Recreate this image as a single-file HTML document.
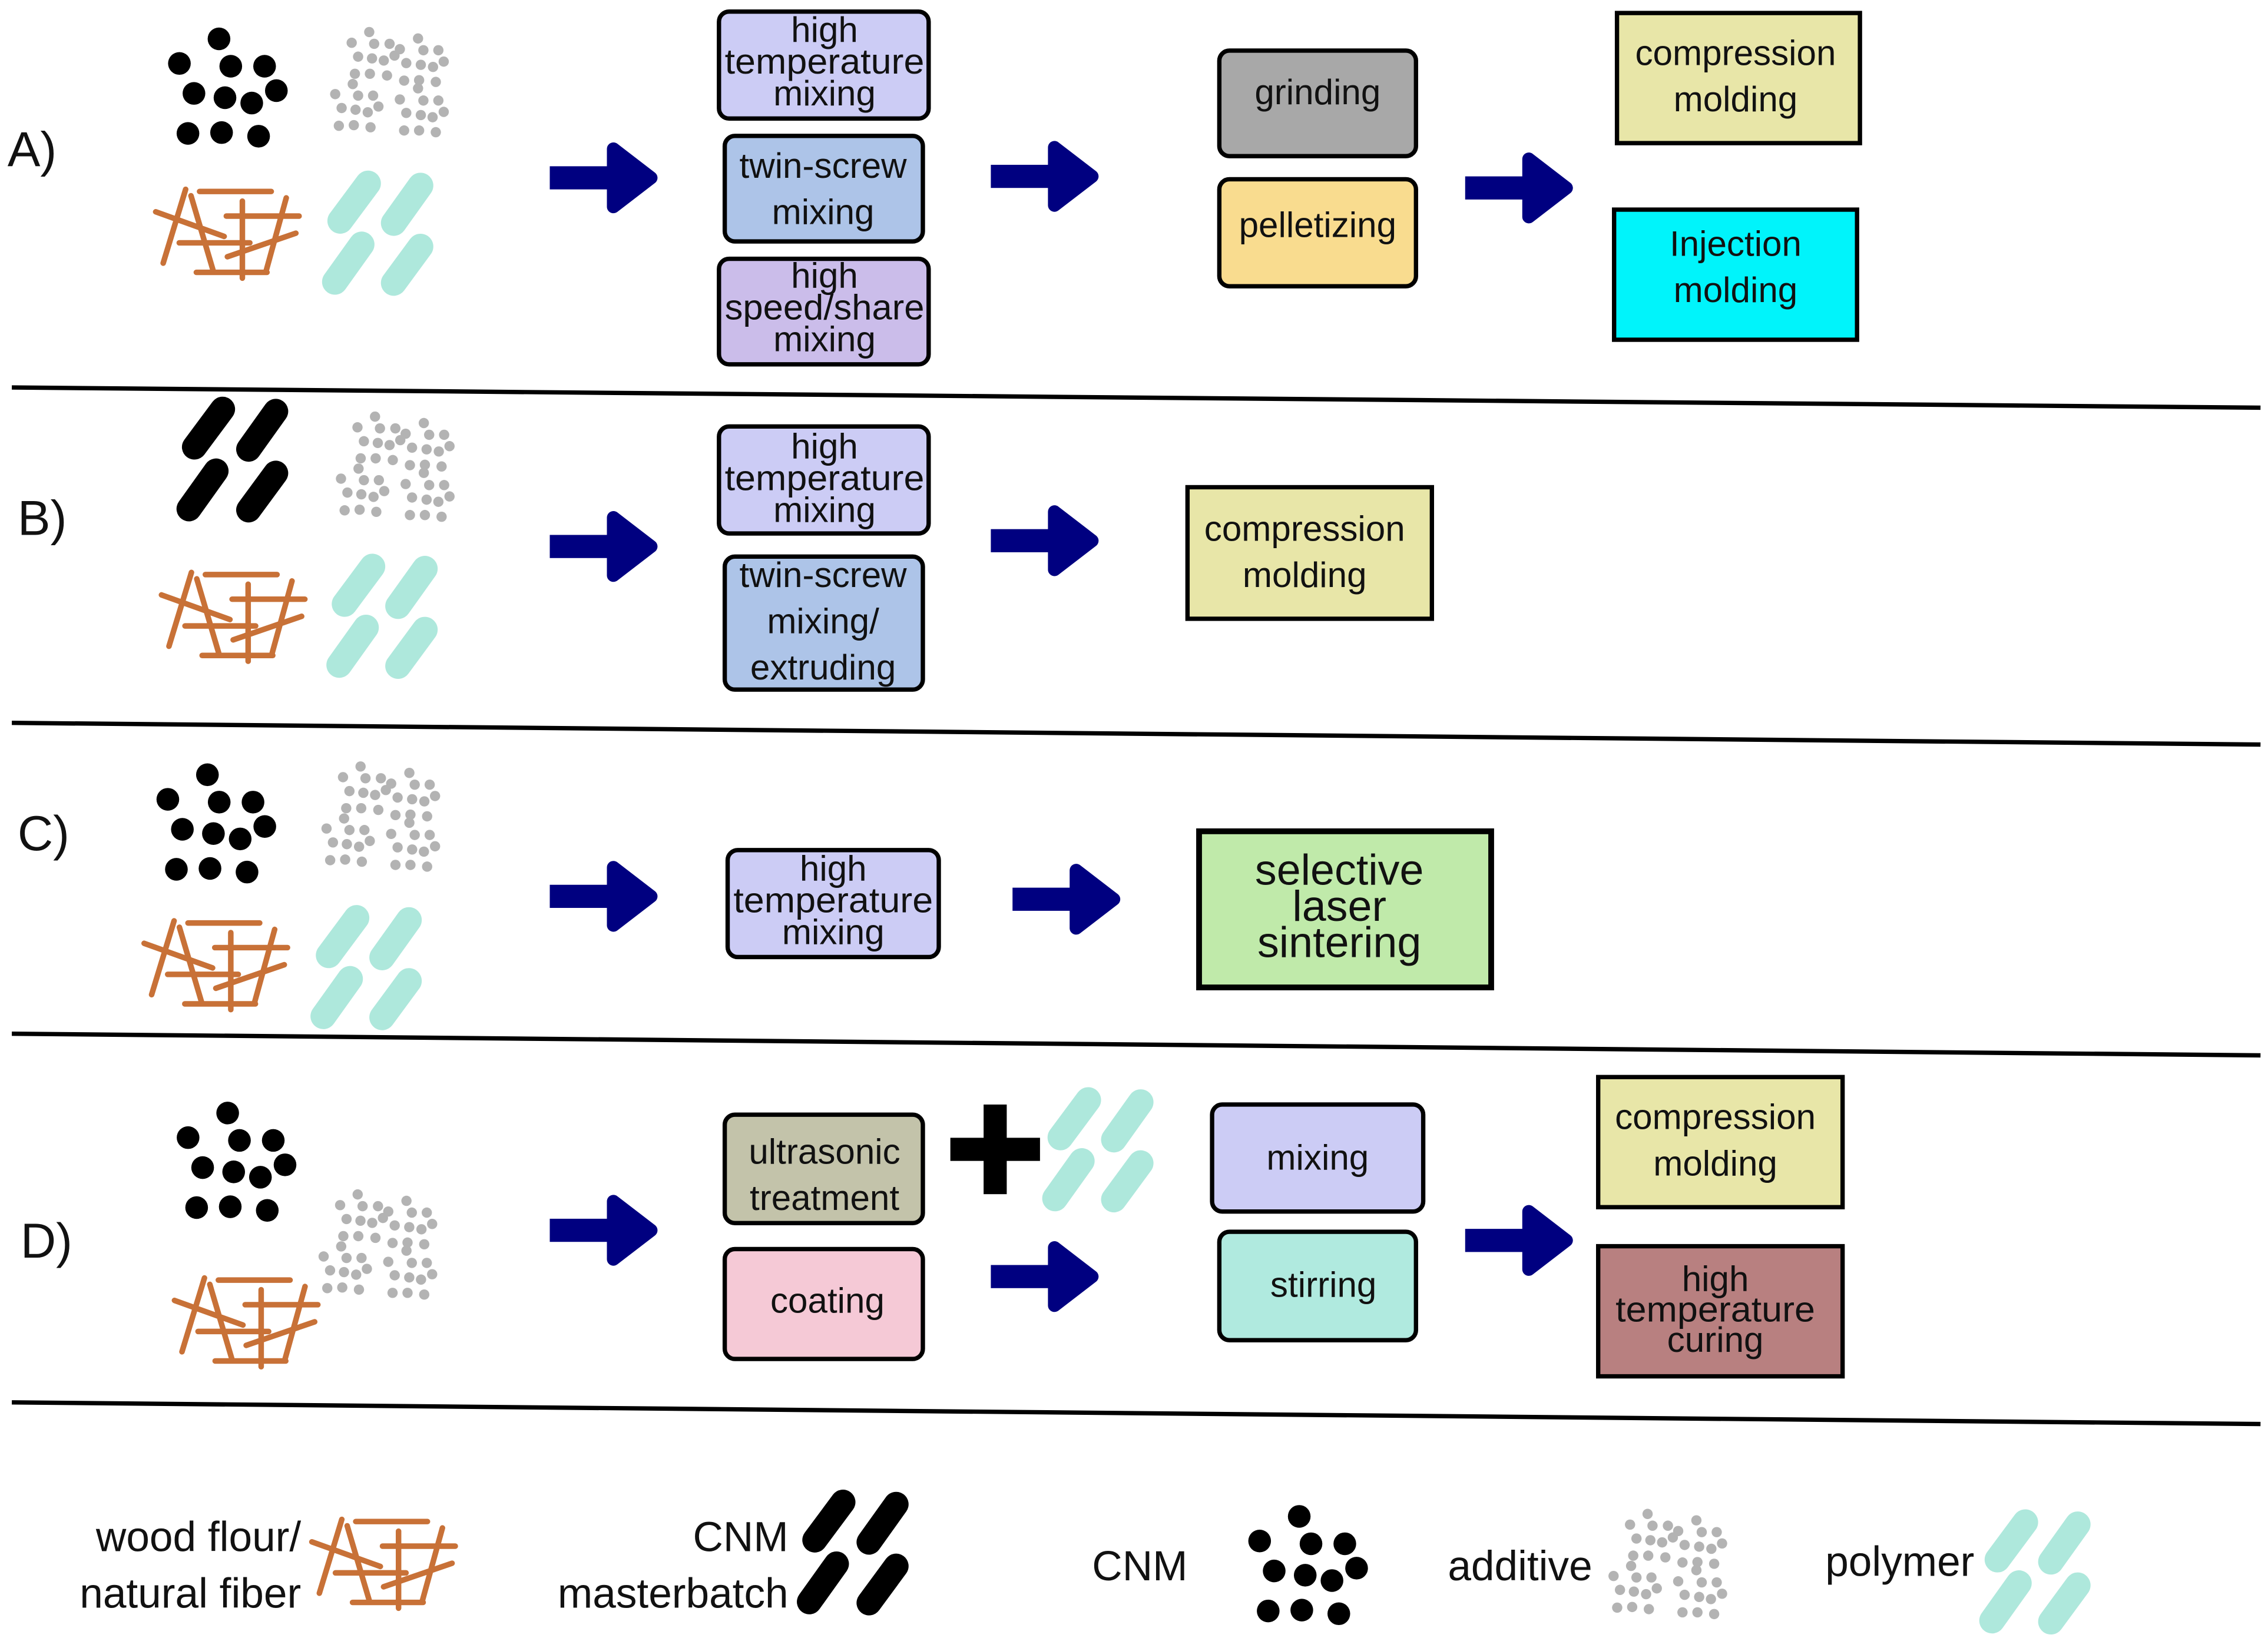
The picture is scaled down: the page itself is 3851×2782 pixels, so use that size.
<!DOCTYPE html>
<html><head><meta charset="utf-8"><style>
html,body{margin:0;padding:0;background:#fff;}
svg{display:block;}
text{font-family:"Liberation Sans",sans-serif;fill:#111;}
</style></head><body>
<svg width="3851" height="2782" viewBox="0 0 1568 1133" xmlns="http://www.w3.org/2000/svg">
<defs>
<g id="cnm" fill="#000">
<circle cx="245" cy="60" r="53"/><circle cx="60" cy="175" r="53"/><circle cx="300" cy="188" r="53"/><circle cx="458" cy="188" r="53"/>
<circle cx="128" cy="315" r="53"/><circle cx="273" cy="335" r="53"/><circle cx="398" cy="360" r="53"/><circle cx="513" cy="302" r="53"/>
<circle cx="100" cy="502" r="53"/><circle cx="257" cy="498" r="53"/><circle cx="430" cy="515" r="53"/>
</g>
<g id="add" fill="#b3b3b3">
<circle cx="197" cy="35" r="24"/><circle cx="115" cy="85" r="24"/><circle cx="220" cy="90" r="24"/><circle cx="292" cy="90" r="24"/><circle cx="340" cy="115" r="24"/><circle cx="425" cy="65" r="24"/><circle cx="450" cy="120" r="24"/><circle cx="520" cy="120" r="24"/>
<circle cx="145" cy="150" r="24"/><circle cx="210" cy="158" r="24"/><circle cx="265" cy="168" r="24"/><circle cx="315" cy="145" r="24"/><circle cx="370" cy="180" r="24"/><circle cx="438" cy="188" r="24"/><circle cx="495" cy="198" r="24"/><circle cx="545" cy="173" r="24"/>
<circle cx="130" cy="230" r="24"/><circle cx="200" cy="230" r="24"/><circle cx="280" cy="238" r="24"/><circle cx="360" cy="262" r="24"/><circle cx="430" cy="260" r="24"/><circle cx="508" cy="268" r="24"/><circle cx="120" cy="278" r="24"/><circle cx="425" cy="298" r="24"/>
<circle cx="38" cy="325" r="24"/><circle cx="145" cy="332" r="24"/><circle cx="215" cy="332" r="24"/><circle cx="340" cy="350" r="24"/><circle cx="450" cy="355" r="24"/><circle cx="520" cy="355" r="24"/>
<circle cx="68" cy="390" r="24"/><circle cx="133" cy="398" r="24"/><circle cx="190" cy="410" r="24"/><circle cx="240" cy="383" r="24"/><circle cx="370" cy="413" r="24"/><circle cx="438" cy="423" r="24"/><circle cx="493" cy="433" r="24"/><circle cx="545" cy="408" r="24"/>
<circle cx="55" cy="473" r="24"/><circle cx="125" cy="470" r="24"/><circle cx="203" cy="480" r="24"/><circle cx="360" cy="495" r="24"/><circle cx="430" cy="495" r="24"/><circle cx="508" cy="503" r="24"/>
</g>
<g id="fib" stroke="#c87137" stroke-width="26" stroke-linecap="round" fill="none">
<line x1="150" y1="20" x2="45" y2="365"/><line x1="175" y1="50" x2="280" y2="405"/><line x1="215" y1="30" x2="550" y2="30"/><line x1="10" y1="125" x2="330" y2="240"/><line x1="340" y1="145" x2="680" y2="145"/><line x1="415" y1="75" x2="415" y2="435"/><line x1="120" y1="270" x2="450" y2="270"/><line x1="345" y1="335" x2="665" y2="225"/><line x1="620" y1="60" x2="525" y2="405"/><line x1="200" y1="408" x2="530" y2="408"/>
</g>
<g id="pol" stroke="#aee8dc" stroke-width="120" stroke-linecap="round">
<line x1="75" y1="235" x2="205" y2="60"/><line x1="325" y1="245" x2="450" y2="70"/><line x1="50" y1="520" x2="175" y2="345"/><line x1="325" y1="525" x2="450" y2="355"/>
</g>
<g id="mb" stroke="#000" stroke-width="115" stroke-linecap="round">
<line x1="75" y1="235" x2="205" y2="60"/><line x1="325" y1="245" x2="450" y2="70"/><line x1="50" y1="520" x2="175" y2="345"/><line x1="325" y1="525" x2="450" y2="355"/>
</g>
<g id="arr" fill="#000080" stroke="#000080" stroke-linejoin="round">
<rect x="0" y="-8" width="48" height="16" stroke="none"/>
<polygon points="44,-20 70,0 44,20" stroke-width="9"/>
</g>
</defs>

<g stroke="#000" stroke-width="3">
<line x1="8" y1="268" x2="1563" y2="282"/>
<line x1="8" y1="500" x2="1563" y2="515"/>
<line x1="8" y1="715" x2="1563" y2="730"/>
<line x1="8" y1="970" x2="1563" y2="985"/>
</g>

<g font-size="34">
<text x="5" y="115">A)</text>
<text x="12" y="370">B)</text>
<text x="12" y="588">C)</text>
<text x="14" y="870">D)</text>
</g>

<g transform="translate(115,18) scale(0.148)"><use href="#cnm"/></g>
<g transform="translate(226,17) scale(0.148)"><use href="#add"/></g>
<g transform="translate(106,128) scale(0.148)"><use href="#fib"/></g>
<g transform="translate(224,118) scale(0.148)"><use href="#pol"/></g>

<g transform="translate(123,274) scale(0.15)"><use href="#mb"/></g>
<g transform="translate(230,283) scale(0.148)"><use href="#add"/></g>
<g transform="translate(110,393) scale(0.148)"><use href="#fib"/></g>
<g transform="translate(227,383) scale(0.148)"><use href="#pol"/></g>

<g transform="translate(107,527) scale(0.148)"><use href="#cnm"/></g>
<g transform="translate(220,525) scale(0.148)"><use href="#add"/></g>
<g transform="translate(98,634) scale(0.148)"><use href="#fib"/></g>
<g transform="translate(216,626) scale(0.148)"><use href="#pol"/></g>

<g transform="translate(121,761) scale(0.148)"><use href="#cnm"/></g>
<g transform="translate(218,821) scale(0.148)"><use href="#add"/></g>
<g transform="translate(119,881) scale(0.148)"><use href="#fib"/></g>
<g transform="translate(722,752) scale(0.148)"><use href="#pol"/></g>

<g fill="#000"><rect x="680" y="764" width="16" height="62"/><rect x="657" y="787" width="62" height="16"/></g>

<use href="#arr" x="380" y="123"/><use href="#arr" x="685" y="122"/><use href="#arr" x="1013" y="130"/>
<use href="#arr" x="380" y="378"/><use href="#arr" x="685" y="374"/>
<use href="#arr" x="380" y="620"/><use href="#arr" x="700" y="622"/>
<use href="#arr" x="380" y="851"/><use href="#arr" x="685" y="883"/><use href="#arr" x="1013" y="858"/>

<g stroke="#000" stroke-width="3">
<rect x="497" y="8" width="145" height="74" rx="7" fill="#ccccf5"/>
<rect x="501" y="94" width="137" height="73" rx="7" fill="#adc4e8"/>
<rect x="497" y="179" width="145" height="73" rx="7" fill="#cbbdea"/>
<rect x="843" y="35" width="136" height="73" rx="7" fill="#a8a8a8"/>
<rect x="843" y="124" width="136" height="74" rx="7" fill="#f9dc8f"/>
<rect x="1118" y="9" width="168" height="90" fill="#e8e6a8"/>
<rect x="1116" y="145" width="168" height="90" fill="#00f4fb"/>

<rect x="497" y="295" width="145" height="74" rx="7" fill="#ccccf5"/>
<rect x="501" y="385" width="137" height="92" rx="7" fill="#adc4e8"/>
<rect x="821" y="337" width="169" height="91" fill="#e8e6a8"/>

<rect x="503" y="588" width="146" height="74" rx="7" fill="#ccccf5"/>
<rect x="829" y="575" width="202" height="108" fill="#c0eaaa" stroke-width="4"/>

<rect x="501" y="771" width="137" height="75" rx="7" fill="#c3c3aa"/>
<rect x="501" y="864" width="137" height="76" rx="7" fill="#f5c9d6"/>
<rect x="838" y="764" width="146" height="74" rx="7" fill="#ccccf5"/>
<rect x="843" y="852" width="136" height="75" rx="7" fill="#b0eadf"/>
<rect x="1105" y="745" width="169" height="90" fill="#e8e6a8"/>
<rect x="1105" y="862" width="169" height="90" fill="#b88080"/>
</g>

<g font-size="24.5" text-anchor="middle">
<text x="570" y="29">high</text><text x="570" y="51" textLength="138" lengthAdjust="spacingAndGlyphs">temperature</text><text x="570" y="73">mixing</text>
<text x="569" y="123">twin-screw</text><text x="569" y="155">mixing</text>
<text x="570" y="199">high</text><text x="570" y="221" textLength="138" lengthAdjust="spacingAndGlyphs">speed/share</text><text x="570" y="243">mixing</text>
<text x="911" y="72">grinding</text>
<text x="911" y="164">pelletizing</text>
<text x="1200" y="45">compression</text><text x="1200" y="77">molding</text>
<text x="1200" y="177">Injection</text><text x="1200" y="209">molding</text>

<text x="570" y="317">high</text><text x="570" y="339" textLength="138" lengthAdjust="spacingAndGlyphs">temperature</text><text x="570" y="361">mixing</text>
<text x="569" y="406">twin-screw</text><text x="569" y="438">mixing/</text><text x="569" y="470">extruding</text>
<text x="902" y="374">compression</text><text x="902" y="406">molding</text>

<text x="576" y="609">high</text><text x="576" y="631" textLength="138" lengthAdjust="spacingAndGlyphs">temperature</text><text x="576" y="653">mixing</text>

<text x="570" y="805">ultrasonic</text><text x="570" y="837">treatment</text>
<text x="572" y="908">coating</text>
<text x="911" y="809">mixing</text>
<text x="915" y="897">stirring</text>
<text x="1186" y="781">compression</text><text x="1186" y="813">molding</text>
<text x="1186" y="893">high</text><text x="1186" y="914" textLength="138" lengthAdjust="spacingAndGlyphs">temperature</text><text x="1186" y="935">curing</text>
</g>
<g font-size="30" text-anchor="middle">
<text x="926" y="612">selective</text><text x="926" y="637">laser</text><text x="926" y="662">sintering</text>
</g>

<g font-size="29">
<text x="208" y="1073" text-anchor="end">wood flour/</text>
<text x="208" y="1112" text-anchor="end">natural fiber</text>
<text x="545" y="1073" text-anchor="end">CNM</text>
<text x="545" y="1112" text-anchor="end">masterbatch</text>
<text x="755" y="1093">CNM</text>
<text x="1001" y="1093">additive</text>
<text x="1262" y="1090">polymer</text>
</g>
<g transform="translate(214,1048) scale(0.148)"><use href="#fib"/></g>
<g transform="translate(552,1030) scale(0.15)"><use href="#mb"/></g>
<g transform="translate(862,1040) scale(0.148)"><use href="#cnm"/></g>
<g transform="translate(1110,1042) scale(0.148)"><use href="#add"/></g>
<g transform="translate(1370,1044) scale(0.148)"><use href="#pol"/></g>
</svg>
</body></html>
